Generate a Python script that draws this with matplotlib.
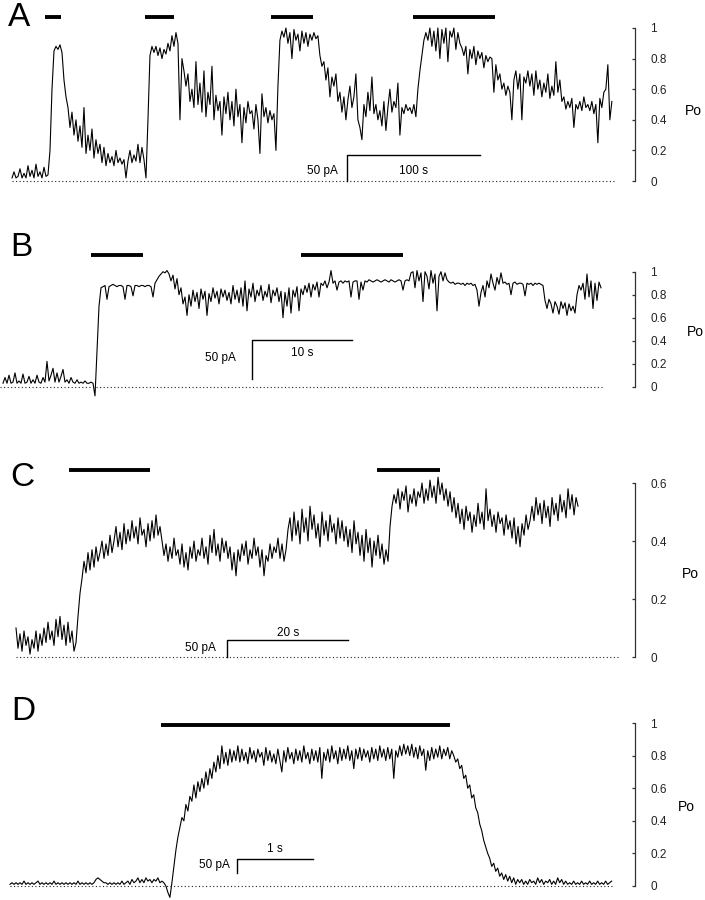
import numpy as np
import matplotlib.pyplot as plt

plt.rcParams['font.family'] = ['Liberation Sans', 'DejaVu Sans']

DT_A = 1.5
DT_B = 0.2
DT_C = 0.3306
DT_D = 0.0263

# open probability traces
PO_A = [0.02, 0.06, 0.02, 0.03, 0.08, 0.02, 0.05, 0.02, 0.10, 0.03,
        0.07, 0.02, 0.11, 0.03, 0.06, 0.02, 0.09, 0.03, 0.04,
        0.20, 0.60, 0.85, 0.88, 0.86, 0.89, 0.84,
        0.66, 0.55, 0.48, 0.35, 0.45, 0.30, 0.40, 0.26, 0.36, 0.22,
        0.48, 0.18, 0.30, 0.20, 0.34, 0.15, 0.27, 0.18, 0.24,
        0.12, 0.22, 0.10, 0.18, 0.12, 0.16, 0.10, 0.20, 0.12, 0.15,
        0.11, 0.14, 0.02, 0.13, 0.20, 0.12, 0.17, 0.13, 0.24, 0.12,
        0.22, 0.14, 0.02,
        0.40, 0.82, 0.88,
        0.84, 0.88, 0.82, 0.87, 0.80, 0.86, 0.83, 0.90, 0.85, 0.95,
        0.88, 0.97, 0.90,
        0.40, 0.80, 0.72, 0.62, 0.70, 0.52, 0.60, 0.48, 0.78, 0.50,
        0.64, 0.45, 0.72, 0.42, 0.58, 0.50, 0.75, 0.40, 0.56, 0.46,
        0.52, 0.30, 0.55, 0.44, 0.58, 0.40, 0.52, 0.36, 0.60, 0.42,
        0.50, 0.25, 0.48, 0.38, 0.52, 0.44, 0.46, 0.34, 0.50, 0.40,
        0.18, 0.57, 0.42, 0.48, 0.38, 0.46, 0.40, 0.44,
        0.20, 0.62, 0.92,
        0.98, 0.94, 1.00, 0.90, 0.97, 0.80, 0.99, 0.92, 0.96, 0.85,
        0.98, 0.90, 0.97, 0.88, 0.96, 0.92, 0.97, 0.93, 0.95,
        0.82, 0.75, 0.78, 0.66, 0.74, 0.55, 0.68, 0.62, 0.70, 0.52,
        0.58, 0.45, 0.55, 0.40, 0.53, 0.62, 0.48, 0.55, 0.70, 0.40,
        0.35, 0.27, 0.50, 0.42, 0.58, 0.46, 0.68, 0.44, 0.50, 0.40,
        0.46, 0.36, 0.52, 0.33, 0.48, 0.60, 0.45, 0.52, 0.48, 0.64,
        0.30, 0.48, 0.44, 0.50, 0.46, 0.48, 0.44, 0.50, 0.42,
        0.60, 0.72, 0.82, 0.92, 0.97,
        0.92, 1.00, 0.88, 0.98, 0.85, 1.00, 0.80, 0.99, 0.90, 1.00,
        0.78, 0.98, 0.94, 1.00, 0.86, 0.97, 0.90, 0.87, 0.82, 0.88,
        0.70, 0.86, 0.80, 0.88, 0.76, 0.85, 0.80, 0.84, 0.74, 0.82,
        0.78, 0.81, 0.80, 0.58, 0.76, 0.66, 0.70, 0.60, 0.64, 0.56,
        0.62, 0.58, 0.40, 0.66, 0.72, 0.60, 0.70, 0.40, 0.68, 0.64,
        0.72, 0.62, 0.70, 0.56, 0.72, 0.60, 0.66, 0.55, 0.64, 0.58,
        0.70, 0.54, 0.62, 0.56, 0.78, 0.58, 0.66, 0.52, 0.55, 0.47,
        0.52, 0.48, 0.54, 0.35, 0.50, 0.47, 0.52, 0.46, 0.55, 0.48,
        0.50, 0.46, 0.52, 0.44, 0.50, 0.25, 0.54, 0.48, 0.58, 0.60,
        0.76, 0.40, 0.52]

PO_B = [0.03, 0.08, 0.03, 0.10, 0.03, 0.04, 0.12, 0.03, 0.05, 0.03,
        0.11, 0.03, 0.04, 0.09, 0.03, 0.06, 0.03, 0.10, 0.04, 0.03,
        0.08, 0.04, 0.22, 0.05, 0.10, 0.16, 0.04, 0.12, 0.04, 0.09,
        0.15, 0.04, 0.06, 0.03, 0.08, 0.04, 0.03, 0.06, 0.03, 0.04,
        0.03, 0.05, 0.03, 0.03, 0.04, 0.03,
        -0.08, 0.30, 0.70, 0.86,
        0.87, 0.88, 0.76, 0.87, 0.88, 0.89, 0.88, 0.87, 0.88, 0.88,
        0.87, 0.76, 0.88, 0.88, 0.87, 0.79, 0.88, 0.88, 0.87, 0.88,
        0.88, 0.87, 0.88, 0.88, 0.87, 0.78, 0.90,
        0.93, 0.96, 0.98, 1.00, 0.99, 1.01, 0.98, 0.92, 0.97, 0.85,
        0.94, 0.80, 0.86,
        0.72, 0.78, 0.62, 0.80, 0.70, 0.84, 0.74, 0.82, 0.68, 0.85,
        0.76, 0.83, 0.62, 0.81, 0.74, 0.86, 0.77, 0.83, 0.72, 0.85,
        0.78, 0.84, 0.75, 0.82, 0.72, 0.88, 0.76, 0.84, 0.73, 0.86,
        0.70, 0.92, 0.66, 0.85, 0.78, 0.90, 0.74, 0.84, 0.79, 0.88,
        0.75, 0.83, 0.78, 0.89, 0.73, 0.84, 0.79, 0.86, 0.74, 0.83,
        0.60, 0.82, 0.70, 0.86, 0.64, 0.84, 0.78, 0.87, 0.66, 0.85,
        0.80, 0.88, 0.82, 0.90, 0.78, 0.89, 0.84, 0.91, 0.78, 0.90,
        0.88, 0.92, 0.86, 0.91, 1.01, 0.90, 0.92, 0.84, 0.91, 0.92,
        0.90, 0.92,
        0.91, 0.92, 0.78, 0.91, 0.92, 0.92, 0.76, 0.91, 0.84, 0.92,
        0.91, 0.93, 0.92, 0.91, 0.92, 0.93, 0.92, 0.91, 0.92, 0.93,
        0.92, 0.91, 0.93, 0.92, 0.91, 0.92, 0.93, 0.92, 0.84, 0.92,
        0.93, 0.92,
        0.99, 1.00, 0.86, 1.01, 0.92, 0.99, 0.74, 1.00, 0.96, 0.85,
        1.01, 0.90, 0.98, 0.66, 0.96, 1.00, 0.92, 0.99, 0.93,
        0.91, 0.90, 0.91, 0.89, 0.90, 0.90, 0.89, 0.90, 0.88, 0.90,
        0.89, 0.90, 0.88, 0.89, 0.84, 0.70, 0.82, 0.88, 0.78, 0.92,
        0.86, 0.98, 0.90, 0.84, 0.95, 0.89, 0.99, 0.90, 0.91, 0.89,
        0.90, 0.80, 0.90, 0.91, 0.89, 0.90, 0.90, 0.89, 0.79, 0.90,
        0.89, 0.90, 0.88, 0.90, 0.89, 0.90, 0.89, 0.88,
        0.75, 0.68, 0.76, 0.72, 0.64, 0.74, 0.70, 0.63, 0.74, 0.68,
        0.73, 0.62, 0.72, 0.66, 0.70, 0.64,
        0.80, 0.88, 0.84, 0.90, 0.76, 0.98, 0.78, 0.92, 0.68, 0.90,
        0.75, 0.91, 0.86]

PO_C = [0.10, 0.03, 0.08, 0.02, 0.09, 0.04, 0.07, 0.01, 0.06, 0.03,
        0.09, 0.02, 0.08, 0.04, 0.10, 0.05, 0.12, 0.06, 0.09, 0.04,
        0.13, 0.07, 0.14, 0.06, 0.11, 0.04, 0.12, 0.05, 0.09, 0.02,
        0.05, 0.14, 0.22, 0.27, 0.33, 0.29, 0.36, 0.30,
        0.37, 0.31, 0.38, 0.33, 0.36, 0.40, 0.34, 0.39, 0.35, 0.42,
        0.36, 0.40, 0.45, 0.38, 0.43, 0.37, 0.46, 0.39, 0.44, 0.40,
        0.47, 0.41, 0.45, 0.39, 0.48, 0.42, 0.44, 0.38, 0.46, 0.40,
        0.47, 0.41, 0.49, 0.42, 0.45,
        0.40, 0.35, 0.39, 0.33, 0.38, 0.34, 0.41, 0.35, 0.37, 0.32,
        0.39, 0.31, 0.36, 0.30, 0.38, 0.34, 0.40, 0.33, 0.37, 0.35,
        0.41, 0.34, 0.38, 0.32, 0.42, 0.36, 0.44, 0.35, 0.39, 0.33,
        0.41, 0.36, 0.40, 0.34, 0.38, 0.30, 0.36, 0.28, 0.37, 0.33,
        0.39, 0.35, 0.40, 0.32, 0.37, 0.34, 0.41, 0.35, 0.38, 0.31,
        0.37, 0.28, 0.35, 0.33, 0.39, 0.34, 0.38, 0.36, 0.41, 0.34,
        0.39, 0.33, 0.37,
        0.44, 0.48, 0.40, 0.50, 0.42, 0.47, 0.39, 0.51, 0.43, 0.48,
        0.40, 0.52, 0.44, 0.49, 0.41, 0.46, 0.38, 0.50, 0.42, 0.47,
        0.40, 0.49, 0.43, 0.46, 0.39, 0.48, 0.41, 0.47, 0.40, 0.45,
        0.38, 0.44, 0.36, 0.47, 0.39, 0.43, 0.35, 0.42, 0.33, 0.44,
        0.36, 0.41, 0.31, 0.40, 0.35, 0.42, 0.34, 0.39, 0.32, 0.37,
        0.33,
        0.45, 0.52, 0.56,
        0.53, 0.58, 0.51, 0.57, 0.54, 0.59, 0.50, 0.56, 0.53, 0.58,
        0.52, 0.57, 0.55, 0.60, 0.53, 0.58, 0.54, 0.61, 0.55, 0.59,
        0.53, 0.62, 0.56, 0.60, 0.54, 0.58, 0.52, 0.57, 0.50,
        0.55, 0.48, 0.53, 0.46, 0.51, 0.44, 0.52, 0.47, 0.50, 0.43,
        0.49, 0.45, 0.53, 0.46, 0.50, 0.44, 0.58, 0.47, 0.51, 0.45,
        0.49, 0.43, 0.50, 0.46, 0.48, 0.42, 0.49, 0.44, 0.47, 0.41,
        0.48, 0.39, 0.45, 0.38, 0.46, 0.42, 0.49, 0.44, 0.47,
        0.52, 0.47, 0.55, 0.49, 0.53, 0.46, 0.54, 0.48, 0.52, 0.45,
        0.55, 0.49, 0.53, 0.47, 0.56, 0.50, 0.54, 0.48, 0.58, 0.51,
        0.56, 0.49, 0.55, 0.52]

PO_D = [0.01, 0.02, 0.01, 0.02, 0.01, 0.02, 0.01, 0.03, 0.01, 0.02,
        0.01, 0.02, 0.01, 0.02, 0.03, 0.01, 0.02, 0.01, 0.02, 0.01,
        0.02, 0.01, 0.03, 0.01, 0.02, 0.01, 0.02, 0.01, 0.02, 0.01,
        0.02, 0.01, 0.02, 0.01, 0.03, 0.01, 0.02, 0.01, 0.02, 0.01,
        0.02, 0.01, 0.02, 0.04, 0.05, 0.04, 0.03, 0.02, 0.02, 0.01,
        0.02, 0.01, 0.02, 0.01, 0.02, 0.01, 0.03, 0.01, 0.02, 0.03,
        0.01, 0.04, 0.02, 0.03, 0.05, 0.02, 0.04, 0.02, 0.05, 0.03,
        0.04, 0.02, 0.04, 0.03, 0.05, 0.02, 0.03, 0.02, 0.00,
        -0.04, -0.07, 0.02, 0.12, 0.22, 0.30, 0.36, 0.42, 0.40, 0.50,
        0.46, 0.55, 0.52, 0.62, 0.54, 0.64, 0.58, 0.66, 0.60, 0.70,
        0.62, 0.72, 0.66, 0.76, 0.70, 0.80, 0.72, 0.86, 0.75, 0.82,
        0.74, 0.84, 0.76, 0.83, 0.77, 0.86, 0.76,
        0.84, 0.77, 0.82, 0.75, 0.85, 0.78, 0.83, 0.76, 0.84, 0.79,
        0.82, 0.74, 0.85, 0.77, 0.83, 0.76, 0.81, 0.75, 0.84, 0.77,
        0.70, 0.83, 0.76, 0.85, 0.78, 0.82, 0.75, 0.84, 0.77, 0.83,
        0.76, 0.86, 0.78, 0.82, 0.75, 0.84, 0.77, 0.83, 0.76, 0.85,
        0.66, 0.82, 0.77, 0.84, 0.76, 0.86, 0.78, 0.83, 0.75, 0.85,
        0.77, 0.84, 0.78, 0.86, 0.77, 0.83, 0.72, 0.84, 0.78, 0.85,
        0.77, 0.84, 0.79, 0.83, 0.76, 0.85, 0.78, 0.84, 0.77, 0.86,
        0.79, 0.84, 0.77, 0.85, 0.78, 0.84, 0.66, 0.83, 0.79, 0.86,
        0.80, 0.87, 0.81, 0.86, 0.80, 0.87, 0.79, 0.85, 0.78, 0.86,
        0.80, 0.84, 0.71, 0.83, 0.77, 0.85, 0.78, 0.84, 0.79, 0.86,
        0.78, 0.84, 0.80, 0.85, 0.78, 0.83,
        0.80, 0.76, 0.78, 0.72, 0.74, 0.66, 0.68, 0.60, 0.62, 0.54,
        0.56, 0.48, 0.45, 0.38, 0.34, 0.28, 0.24, 0.20, 0.17, 0.12,
        0.14, 0.09, 0.11, 0.06, 0.08, 0.04, 0.07, 0.03, 0.06, 0.02,
        0.05, 0.01, 0.04, 0.02,
        0.04, 0.01, 0.03, 0.01, 0.04, 0.02, 0.03, 0.01, 0.05, 0.02,
        0.04, 0.01, 0.03, 0.02, 0.04, 0.01, 0.03, 0.01, 0.05, 0.02,
        0.04, 0.01, 0.03, 0.01, 0.02, 0.01, 0.03, 0.01, 0.02, 0.01,
        0.03, 0.01, 0.02, 0.01, 0.03, 0.01, 0.02, 0.01, 0.03, 0.01,
        0.02, 0.01, 0.03, 0.01, 0.02, 0.03]

# agonist application bars (start, end) in s
STIM_A = [(24.8, 36.8), (99.8, 121.5), (194.0, 226.0), (301.0, 362.0)]
STIM_B = [(8.8, 14.0), (29.8, 40.0)]
STIM_C = [(8.8, 22.1), (59.7, 70.0)]
STIM_D = [(1.99, 5.79)]

# time scale bars: (start s, length s, label)
SCALE_A = (251.0, 100.0, '100 s')
SCALE_B = (24.9, 10.0, '10 s')
SCALE_C = (34.9, 20.0, '20 s')
SCALE_D = (2.99, 1.0, '1 s')

W, H = 705, 900
SPINE_PX = 635

fig = plt.figure(figsize=(W / 100, H / 100), dpi=100)


def draw_panel(letter, po, dt, stim, scale, lay):
    top, bottom = lay['top'], lay['bottom']
    ax = fig.add_axes([0, 1 - bottom / H, SPINE_PX / W, (bottom - top) / H])
    pps, x0 = lay['pps'], lay['x0']
    y0, ppu = lay['y0'], lay['ppu']
    ax.set_xlim(-x0 / pps, (SPINE_PX - x0) / pps)
    ax.set_ylim((y0 - bottom) / ppu, (y0 - top) / ppu)

    t = np.arange(len(po)) * dt
    ax.plot(t, po, color='black', lw=0.8)

    # zero-current line
    ax.plot([lay['dot0'], lay['dot1']], [0, 0], color='#222222', lw=0.8,
            linestyle=(0, (1, 2.2)))

    sy = (y0 - lay['stim_y']) / ppu
    for s0, s1 in stim:
        ax.plot([s0, s1], [sy, sy], color='black', lw=2.8, solid_capstyle='butt')

    # scale bar
    t0, tl, lab = scale
    ylo, yhi = lay['pa_lo'], lay['pa_hi']
    ax.plot([t0, t0, t0 + tl], [ylo, yhi, yhi], color='black', lw=1.0)
    ax.text(t0 + tl / 2, lay['t_lab_y'], lab, ha='center', va='center', fontsize=8.5)
    ax.text(t0 - lay['pa_gap'] / pps, lay['pa_y'], '50 pA', ha='right', va='center',
            fontsize=8.5)

    for side in ['top', 'left', 'bottom']:
        ax.spines[side].set_visible(False)
    ax.spines['right'].set_bounds(0, lay['ymax'])
    ax.spines['right'].set_color('#333333')
    ax.spines['right'].set_linewidth(0.9)
    ax.set_xticks([])
    ax.yaxis.tick_right()
    ax.set_yticks(lay['ticks'])
    ax.set_yticklabels(lay['ticklabels'])
    ax.tick_params(axis='y', direction='in', length=2.5, width=0.9, pad=11,
                   labelsize=8.5, colors='#333333', labelcolor='#222222')

    fig.text(lay['letter_xy'][0] / W, 1 - lay['letter_xy'][1] / H, letter,
             fontsize=24, ha='center', va='center')
    fig.text(lay['po_xy'][0] / W, 1 - lay['po_xy'][1] / H, 'Po',
             fontsize=10, ha='center', va='center')
    return ax


ticks01 = [0, 0.2, 0.4, 0.6, 0.8, 1.0]
labels01 = ['0', '0.2', '0.4', '0.6', '0.8', '1']

draw_panel('A', PO_A, DT_A, STIM_A, SCALE_A, dict(
    top=0, bottom=200, x0=12, pps=1.333, y0=181, ppu=153,
    dot0=0, dot1=(615 - 12) / 1.333, stim_y=17,
    pa_lo=0, pa_hi=0.17, t_lab_y=0.065, pa_y=0.065, pa_gap=9,
    ymax=1, ticks=ticks01, ticklabels=labels01,
    letter_xy=(19, 17), po_xy=(693, 111)))

draw_panel('B', PO_B, DT_B, STIM_B, SCALE_B, dict(
    top=210, bottom=410, x0=3, pps=10.0, y0=386.7, ppu=115,
    dot0=-0.3, dot1=(602 - 3) / 10.0, stim_y=255,
    pa_lo=0.067, pa_hi=0.41, t_lab_y=0.29, pa_y=0.25, pa_gap=16,
    ymax=1, ticks=ticks01, ticklabels=labels01,
    letter_xy=(21, 248), po_xy=(695, 332)))

draw_panel('C', PO_C, DT_C, STIM_C, SCALE_C, dict(
    top=455, bottom=675, x0=16, pps=6.05, y0=657, ppu=290,
    dot0=0, dot1=(619 - 16) / 6.05, stim_y=470,
    pa_lo=0, pa_hi=0.059, t_lab_y=0.083, pa_y=0.031, pa_gap=11,
    ymax=0.6, ticks=[0, 0.2, 0.4, 0.6], ticklabels=['0', '0.2', '0.4', '0.6'],
    letter_xy=(22, 478), po_xy=(690, 574)))

draw_panel('D', PO_D, DT_D, STIM_D, SCALE_D, dict(
    top=690, bottom=900, x0=10, pps=76.0, y0=886, ppu=163,
    dot0=0, dot1=(612 - 10) / 76.0, stim_y=725,
    pa_lo=0.08, pa_hi=0.166, t_lab_y=0.227, pa_y=0.129, pa_gap=7,
    ymax=1, ticks=ticks01, ticklabels=labels01,
    letter_xy=(23, 712), po_xy=(686, 807)))

fig.savefig('out.png', dpi=100)
